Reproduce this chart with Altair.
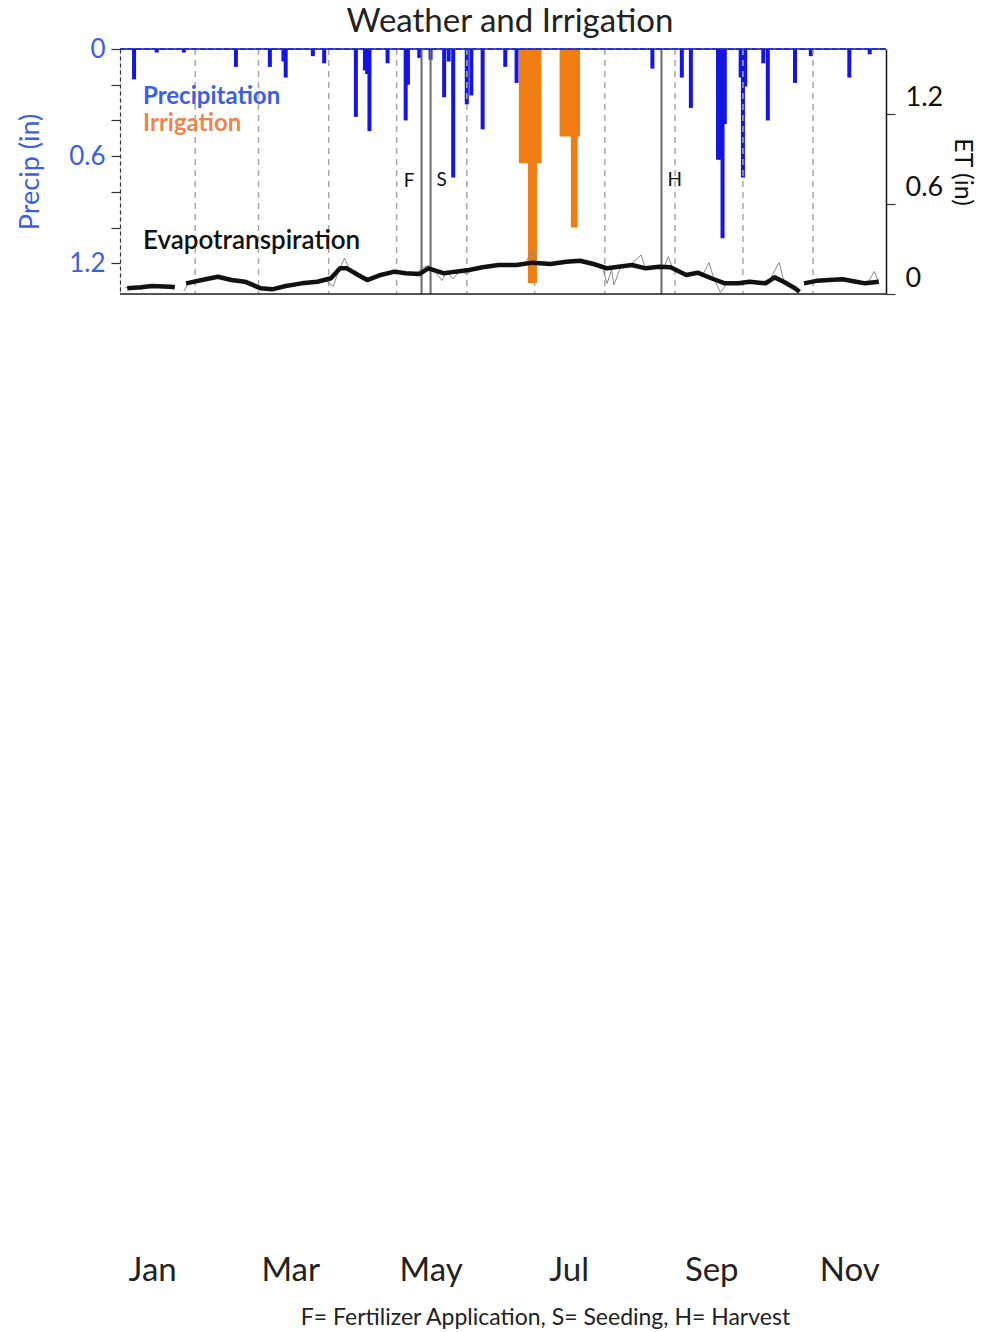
import altair as alt
import pandas as pd

# ---------------- data ----------------
precip_dates = ["2019-01-05", "2019-01-15", "2019-01-27", "2019-02-19", "2019-03-06",
                "2019-03-12", "2019-03-13", "2019-03-25", "2019-03-30", "2019-04-13",
                "2019-04-17", "2019-04-18", "2019-04-19", "2019-04-27", "2019-05-05",
                "2019-05-06", "2019-05-11", "2019-05-16", "2019-05-22", "2019-05-24",
                "2019-05-26", "2019-06-01", "2019-06-03", "2019-06-08", "2019-06-18",
                "2019-06-23", "2019-08-22", "2019-09-04", "2019-09-08", "2019-09-20",
                "2019-09-21", "2019-09-22", "2019-09-23", "2019-09-30", "2019-10-01",
                "2019-10-02", "2019-10-10", "2019-10-12", "2019-10-24", "2019-10-31",
                "2019-11-17", "2019-11-26"]
precip_in = [0.17, 0.02, 0.02, 0.10, 0.10,
             0.07, 0.16, 0.04, 0.08, 0.38,
             0.12, 0.14, 0.46, 0.08, 0.40,
             0.20, 0.05, 0.06, 0.27, 0.07,
             0.72, 0.31, 0.26, 0.45, 0.10,
             0.19, 0.11, 0.16, 0.33, 0.62,
             0.62, 1.06, 0.42, 0.16, 0.72,
             0.21, 0.08, 0.40, 0.19, 0.04,
             0.16, 0.03]

irr_start = ["2019-06-24", "2019-06-28", "2019-07-12", "2019-07-17"]
irr_end = ["2019-07-04", "2019-07-02", "2019-07-21", "2019-07-20"]
irr_in = [0.64, 1.31, 0.49, 1.00]

# evapotranspiration (smoothed, black) - day of year, inches
et_days_1 = [1, 7, 12, 20, 22]
et_vals_1 = [0.038, 0.045, 0.053, 0.049, 0.045]
et_days_2 = [27, 34, 41, 47, 53, 60, 65, 71, 78, 85, 91, 95, 98, 103, 107, 113, 119, 124,
             130, 134, 141, 146, 152, 158, 165, 173, 180, 188, 195, 201, 207, 213, 218,
             224, 230, 236, 241, 248, 253, 259, 265, 271, 276, 283, 287, 291, 296, 298]
et_vals_2 = [0.071, 0.093, 0.115, 0.093, 0.082, 0.038, 0.031, 0.053, 0.071, 0.082,
             0.105, 0.171, 0.171, 0.127, 0.093, 0.127, 0.149, 0.138, 0.133, 0.171,
             0.138, 0.149, 0.160, 0.178, 0.193, 0.193, 0.209, 0.200, 0.215, 0.222,
             0.200, 0.171, 0.182, 0.193, 0.171, 0.182, 0.178, 0.127, 0.142, 0.105,
             0.071, 0.071, 0.082, 0.071, 0.111, 0.082, 0.038, 0.015]
et_days_3 = [300, 306, 311, 317, 323, 327, 333]
et_vals_3 = [0.071, 0.089, 0.093, 0.098, 0.082, 0.071, 0.082]

# evapotranspiration (daily, grey)
raw_days_1 = [0, 3, 7, 10, 14, 18, 22]
raw_vals_1 = [0.04, 0.05, 0.03, 0.05, 0.06, 0.04, 0.05]
raw_days_2 = [26, 28, 32, 36, 41, 45, 50, 55, 60, 64, 68, 72, 78, 84, 88, 92, 94, 97, 99,
              102, 105, 108, 112, 116, 120, 124, 128, 131, 134, 137, 140, 142, 145, 148,
              151, 154, 158, 163, 168, 173, 177, 180, 182, 187, 192, 197, 202, 207, 211,
              213, 215, 216, 219, 223, 228, 230, 234, 238, 240, 242, 247, 251, 255, 258,
              260, 263, 266, 270, 275, 280, 285, 289, 291, 295, 298]
raw_vals_2 = [0.02, 0.07, 0.09, 0.10, 0.12, 0.10, 0.08, 0.07, 0.04, 0.03, 0.05, 0.06,
              0.07, 0.08, 0.10, 0.05, 0.14, 0.24, 0.17, 0.15, 0.11, 0.10, 0.13, 0.14,
              0.15, 0.14, 0.13, 0.17, 0.19, 0.15, 0.09, 0.15, 0.10, 0.16, 0.13, 0.17,
              0.18, 0.19, 0.20, 0.19, 0.21, 0.29, 0.21, 0.20, 0.21, 0.22, 0.22, 0.19,
              0.17, 0.07, 0.16, 0.06, 0.18, 0.19, 0.26, 0.17, 0.18, 0.17, 0.25, 0.17,
              0.13, 0.14, 0.12, 0.21, 0.11, 0.01, 0.07, 0.07, 0.08, 0.07, 0.10, 0.21,
              0.09, 0.05, 0.02]
raw_days_3 = [300, 304, 309, 314, 319, 324, 328, 331, 333]
raw_vals_3 = [0.06, 0.08, 0.09, 0.10, 0.09, 0.08, 0.07, 0.15, 0.08]

month_starts = ["2019-02-01", "2019-03-01", "2019-04-01", "2019-05-01", "2019-06-01",
                "2019-07-01", "2019-08-01", "2019-09-01", "2019-10-01", "2019-11-01"]
label_months = [1, 3, 5, 7, 9, 11]
label_days = [13, 15, 16, 16, 17, 17]

event_names = ["F", "S", "H"]
event_dates = ["2019-05-12", "2019-05-16", "2019-08-26"]
event_side = ["left", "right", "right"]

# ---------------- build tables ----------------
base_day = pd.Timestamp("2019-01-01")


def to_dates(days):
    return [(base_day + pd.Timedelta(days=d)).strftime("%Y-%m-%d") for d in days]


precip_df = pd.DataFrame({"date": precip_dates, "p": precip_in})
irr_df = pd.DataFrame({"date": irr_start, "end": irr_end, "amt": irr_in})
et_df = pd.concat([
    pd.DataFrame({"date": to_dates(d), "et": v, "seg": s})
    for d, v, s in [(et_days_1, et_vals_1, 1), (et_days_2, et_vals_2, 2), (et_days_3, et_vals_3, 3)]
])
raw_df = pd.concat([
    pd.DataFrame({"date": to_dates(d), "et": v, "seg": s})
    for d, v, s in [(raw_days_1, raw_vals_1, 1), (raw_days_2, raw_vals_2, 2), (raw_days_3, raw_vals_3, 3)]
])
grid_df = pd.DataFrame({"date": month_starts})
event_df = pd.DataFrame({"name": event_names, "date": event_dates, "side": event_side})
one = pd.DataFrame({"k": [0]})

W, H = 766, 245
FONT = "Lato"
BLUE_TXT = "#3b5fe3"
xs = alt.Scale(type="utc",
               domain=[alt.DateTime(year=2019, month=1, date=1, utc=True),
                       alt.DateTime(year=2019, month=12, date=1, utc=True)])
p_scale = alt.Scale(domain=[0, 1.372], reverse=True, nice=False, zero=False)
et_scale = alt.Scale(domain=[0, 1.633], nice=False, zero=False)

x_axis = alt.Axis(
    orient="bottom",
    values=[alt.DateTime(year=2019, month=m, date=d, utc=True)
            for m, d in zip(label_months, label_days)],
    format="%b", labelFont=FONT, labelFontSize=33, labelColor="#222",
    ticks=False, tickSize=0, domain=False, grid=False, labelPadding=0,
    labelBaseline="middle", labelFlush=False, offset=976,
    title="F= Fertilizer Application, S= Seeding, H= Harvest",
    titleFont=FONT, titleFontSize=23, titleFontWeight="normal", titleColor="#222",
    titlePadding=19, titleX=425, titleAlign="center",
)
x_enc = alt.X("date:T", scale=xs, axis=x_axis)

left_axis = alt.Axis(
    orient="left", values=[0, 0.2, 0.4, 0.6, 0.8, 1.0, 1.2],
    labelExpr="(round(datum.value*10) % 6 == 0) ? format(datum.value, '.1~f') : ''",
    tickSize=9, tickColor="#333", tickWidth=1.2, labelPadding=6,
    labelFont=FONT, labelFontSize=26, labelColor=BLUE_TXT,
    domainColor="#333", domainDash=[4, 3], domainWidth=1.2, grid=False,
    title="Precip (in)", titleFont=FONT, titleFontSize=27, titleFontWeight="normal",
    titleColor=BLUE_TXT, titlePadding=24,
)

right_axis = alt.Axis(
    orient="right", values=[0, 0.6, 1.2], format=".1~f",
    tickSize=9, tickColor="#333", tickWidth=1.2, labelPadding=10, labelOffset=-16,
    labelFont=FONT, labelFontSize=27, labelColor="#111",
    domainColor="#111", domainWidth=1.5, grid=False,
    title="ET (in)", titleFont=FONT, titleFontSize=25, titleFontWeight="normal",
    titleColor="#111", titlePadding=7,
)

precip = alt.Chart(precip_df).mark_bar(size=4, color="#1414e6", orient="vertical").encode(
    x=x_enc,
    y=alt.Y("p:Q", scale=p_scale, axis=left_axis),
)

grid = alt.Chart(grid_df).mark_rule(color="#a8a8a8", strokeDash=[6, 5], strokeWidth=1.5).encode(
    x=x_enc,
)

irr = alt.Chart(irr_df).mark_bar(color="#f07d12").encode(
    x=x_enc,
    x2="end:T",
    y=alt.Y("amt:Q", scale=p_scale, axis=None),
    y2=alt.datum(0),
)

events = alt.Chart(event_df).mark_rule(color="#6a6a6a", strokeWidth=2).encode(
    x=x_enc,
)
ev_left = alt.Chart(event_df).transform_filter("datum.side == 'left'").mark_text(
    align="right", dx=-7, font=FONT, fontSize=19, color="#111", baseline="middle"
).encode(x=x_enc, y=alt.value(132), text="name:N")
ev_right = alt.Chart(event_df).transform_filter("datum.side == 'right'").mark_text(
    align="left", dx=6, font=FONT, fontSize=19, color="#111", baseline="middle"
).encode(x=x_enc, y=alt.value(131), text="name:N")

raw = alt.Chart(raw_df).mark_line(color="#8a8a8a", strokeWidth=1).encode(
    x=x_enc,
    y=alt.Y("et:Q", scale=et_scale, axis=None),
    detail="seg:N",
)
et = alt.Chart(et_df).mark_line(color="#111111", strokeWidth=4.5, strokeJoin="round").encode(
    x=x_enc,
    y=alt.Y("et:Q", scale=et_scale, axis=right_axis),
    detail="seg:N",
)

top_line = alt.Chart(one).mark_rule(color="#222", strokeWidth=1.5).encode(
    x=alt.value(0), x2=alt.value(W), y=alt.value(0))
top_blue = alt.Chart(one).mark_rule(color="#2030e0", strokeWidth=2, strokeDash=[5, 3]).encode(
    x=alt.value(0), x2=alt.value(W), y=alt.value(0))
bottom_line = alt.Chart(one).mark_rule(color="#222", strokeWidth=1.5).encode(
    x=alt.value(0), x2=alt.value(W), y=alt.value(H))

leg_p = alt.Chart(pd.DataFrame({"t": ["Precipitation"]})).mark_text(
    align="left", baseline="middle", font=FONT, fontSize=24, fontWeight="bold", color=BLUE_TXT
).encode(x=alt.value(23), y=alt.value(48), text="t:N")
leg_i = alt.Chart(pd.DataFrame({"t": ["Irrigation"]})).mark_text(
    align="left", baseline="middle", font=FONT, fontSize=24, fontWeight="bold", color="#e9874f"
).encode(x=alt.value(23), y=alt.value(75), text="t:N")
leg_e = alt.Chart(pd.DataFrame({"t": ["Evapotranspiration"]})).mark_text(
    align="left", baseline="middle", font=FONT, fontSize=26, fontWeight=600, color="#111"
).encode(x=alt.value(23), y=alt.value(192), text="t:N")

chart = alt.layer(
    precip, grid, irr, events, raw, et, top_line, top_blue, bottom_line,
    leg_p, leg_i, leg_e, ev_left, ev_right,
).resolve_scale(y="independent").properties(
    width=W, height=H,
    title=alt.TitleParams("Weather and Irrigation", font=FONT, fontSize=33, fontWeight="normal",
                          color="#222", anchor="middle", offset=0, dx=7, dy=3),
    padding={"left": 120, "top": 49, "right": 99, "bottom": 1038},
    autosize=alt.AutoSizeParams(type="none"),
).configure_view(stroke=None).configure(background="white")

chart.save("out.html", embed_options={"renderer": "svg", "actions": False})
